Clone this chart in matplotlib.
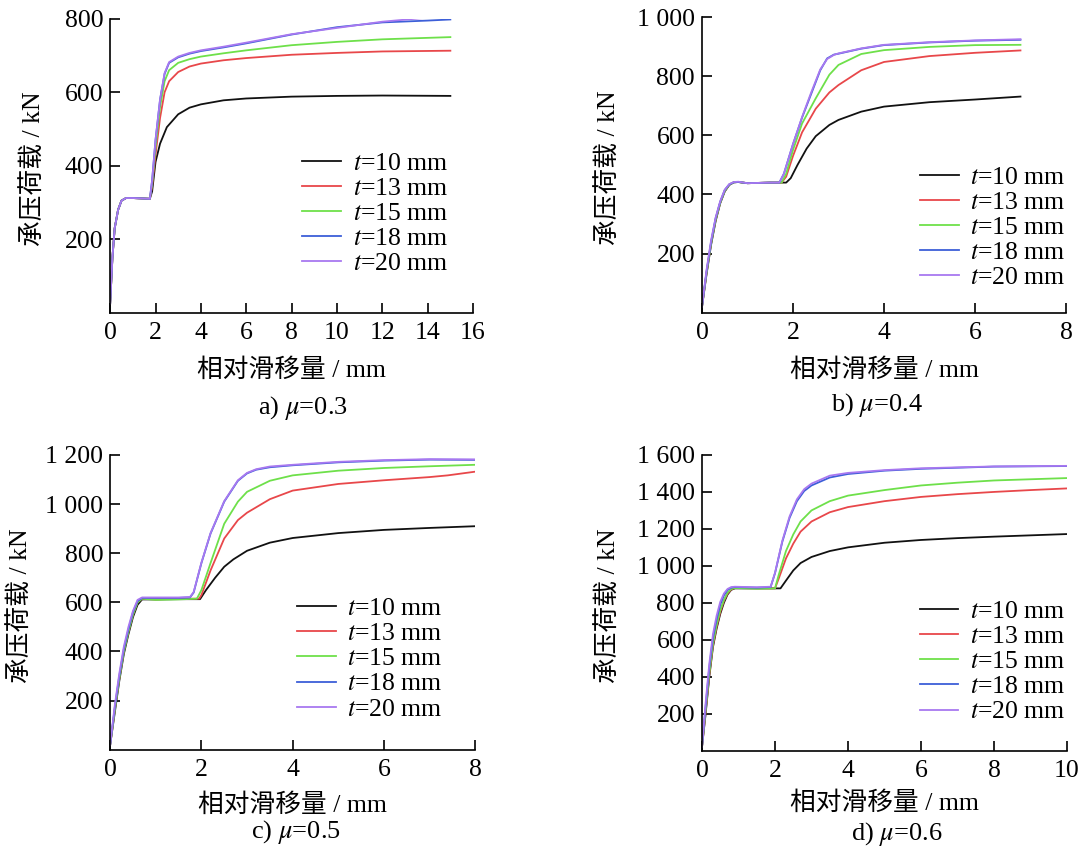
import matplotlib.pyplot as plt
from matplotlib.ticker import FuncFormatter

plt.rcParams['font.family'] = ['Liberation Serif', 'Noto Sans CJK SC']
plt.rcParams['mathtext.fontset'] = 'stix'

labels = ['$t$=10 mm', '$t$=13 mm', '$t$=15 mm', '$t$=18 mm', '$t$=20 mm']
colors = ['#111111', '#e8474a', '#6ee04a', '#3d5fd8', '#a878f0']

# a) mu = 0.3
a_x = [
    [0, 0.1, 0.2, 0.35, 0.5, 0.7, 1.0, 1.75, 1.85, 2.0, 2.2, 2.5, 3.0, 3.5, 4, 5, 6, 8, 10, 12, 15],
    [0, 0.1, 0.2, 0.35, 0.5, 0.7, 1.0, 1.75, 1.85, 2.0, 2.2, 2.4, 2.6, 3.0, 3.5, 4, 5, 6, 8, 10, 12, 15],
    [0, 0.1, 0.2, 0.35, 0.5, 0.7, 1.0, 1.75, 1.85, 2.0, 2.2, 2.4, 2.6, 3.0, 3.5, 4, 5, 6, 8, 10, 12, 15],
    [0, 0.1, 0.2, 0.35, 0.5, 0.7, 1.0, 1.75, 1.85, 2.0, 2.2, 2.4, 2.6, 3.0, 3.5, 4, 5, 6, 8, 10, 12, 14, 15],
    [0, 0.1, 0.2, 0.35, 0.5, 0.7, 1.0, 1.75, 1.85, 2.0, 2.2, 2.4, 2.6, 3.0, 3.5, 4, 5, 6, 8, 10, 12, 14, 15],
]
a_y = [
    [25, 150, 230, 280, 305, 312, 312, 310, 330, 410, 460, 505, 540, 558, 567, 578, 583, 588, 590, 591, 590],
    [25, 150, 230, 280, 305, 312, 312, 310, 345, 430, 530, 600, 630, 655, 670, 678, 687, 693, 702, 707, 711, 713],
    [25, 150, 230, 280, 305, 312, 312, 310, 350, 450, 560, 630, 660, 680, 690, 697, 706, 714, 728, 737, 744, 750],
    [25, 150, 230, 280, 305, 312, 312, 310, 360, 470, 580, 650, 680, 695, 705, 712, 722, 733, 757, 777, 790, 795, 798],
    [25, 150, 230, 280, 305, 312, 312, 310, 360, 470, 580, 652, 682, 697, 707, 714, 724, 735, 758, 775, 792, 803, 808],
]

# b) mu = 0.4
b_x = [
    [0, 0.1, 0.2, 0.3, 0.4, 0.5, 0.6, 0.7, 0.8, 1.0, 1.5, 1.85, 1.95, 2.1, 2.3, 2.5, 2.8, 3.0, 3.5, 4, 5, 6, 7],
    [0, 0.1, 0.2, 0.3, 0.4, 0.5, 0.6, 0.7, 0.8, 1.0, 1.5, 1.75, 1.85, 2.0, 2.2, 2.5, 2.8, 3.0, 3.5, 4, 5, 6, 7],
    [0, 0.1, 0.2, 0.3, 0.4, 0.5, 0.6, 0.7, 0.8, 1.0, 1.5, 1.75, 1.85, 2.0, 2.2, 2.5, 2.8, 3.0, 3.5, 4, 5, 6, 7],
    [0, 0.1, 0.2, 0.3, 0.4, 0.5, 0.6, 0.7, 0.8, 1.0, 1.5, 1.7, 1.8, 2.0, 2.2, 2.4, 2.6, 2.75, 2.9, 3.0, 3.5, 4, 5, 6, 7],
    [0, 0.1, 0.2, 0.3, 0.4, 0.5, 0.6, 0.7, 0.8, 1.0, 1.5, 1.7, 1.8, 2.0, 2.2, 2.4, 2.6, 2.75, 2.9, 3.0, 3.5, 4, 5, 6, 7],
]
b_y = [
    [20, 130, 230, 310, 370, 410, 432, 441, 442, 438, 440, 440, 455, 500, 555, 597, 635, 652, 680, 697, 712, 721, 731],
    [20, 135, 235, 315, 372, 412, 433, 441, 442, 438, 440, 440, 460, 530, 610, 690, 745, 770, 820, 848, 868, 879, 887],
    [20, 135, 235, 315, 372, 412, 433, 441, 442, 438, 440, 440, 470, 550, 640, 725, 805, 838, 875, 888, 899, 905, 906],
    [20, 140, 240, 320, 375, 415, 434, 441, 442, 438, 440, 440, 470, 570, 660, 740, 820, 860, 873, 876, 893, 905, 914, 920, 923],
    [20, 145, 245, 322, 377, 416, 435, 442, 443, 438, 440, 440, 470, 570, 662, 745, 823, 858, 872, 877, 894, 906, 915, 921, 925],
]

# c) mu = 0.5
c_x = [
    [0, 0.1, 0.2, 0.3, 0.4, 0.5, 0.6, 0.7, 1.0, 1.5, 1.97, 2.1, 2.3, 2.5, 2.7, 3.0, 3.5, 4, 5, 6, 7, 8],
    [0, 0.1, 0.2, 0.3, 0.4, 0.5, 0.6, 0.7, 1.0, 1.5, 1.95, 2.0, 2.2, 2.5, 2.8, 3.0, 3.5, 4, 5, 6, 7, 7.4, 8],
    [0, 0.1, 0.2, 0.3, 0.4, 0.5, 0.6, 0.7, 1.0, 1.5, 1.9, 2.0, 2.2, 2.5, 2.8, 3.0, 3.5, 4, 5, 6, 7, 8],
    [0, 0.1, 0.2, 0.3, 0.4, 0.5, 0.6, 0.7, 1.0, 1.5, 1.75, 1.83, 2.0, 2.2, 2.5, 2.8, 3.0, 3.2, 3.5, 4, 5, 6, 7, 8],
    [0, 0.1, 0.2, 0.3, 0.4, 0.5, 0.6, 0.7, 1.0, 1.5, 1.75, 1.83, 2.0, 2.2, 2.5, 2.8, 3.0, 3.2, 3.5, 4, 5, 6, 7, 8],
]
c_y = [
    [20, 150, 280, 390, 470, 540, 590, 612, 612, 613, 613, 650, 700, 745, 775, 810, 843, 862, 882, 895, 903, 910],
    [20, 160, 290, 400, 480, 550, 600, 615, 612, 615, 615, 630, 730, 860, 935, 965, 1020, 1055, 1082, 1097, 1110, 1117, 1132],
    [20, 160, 290, 400, 480, 550, 600, 615, 610, 612, 615, 650, 760, 920, 1010, 1050, 1095, 1117, 1136, 1147, 1154, 1160],
    [20, 170, 300, 410, 490, 560, 605, 618, 618, 618, 620, 640, 760, 880, 1010, 1095, 1125, 1140, 1150, 1158, 1170, 1177, 1181, 1180],
    [20, 180, 310, 420, 500, 565, 610, 620, 620, 620, 622, 642, 762, 882, 1012, 1097, 1127, 1142, 1153, 1160, 1172, 1179, 1183, 1182],
]

# d) mu = 0.6
d_x = [
    [0, 0.1, 0.2, 0.3, 0.4, 0.5, 0.6, 0.7, 0.8, 0.9, 1.5, 2.15, 2.3, 2.5, 2.7, 3.0, 3.5, 4, 5, 6, 7, 8, 10],
    [0, 0.1, 0.2, 0.3, 0.4, 0.5, 0.6, 0.7, 0.8, 0.9, 1.5, 2.0, 2.1, 2.3, 2.5, 2.7, 3.0, 3.5, 4, 5, 6, 7, 8, 9, 10],
    [0, 0.1, 0.2, 0.3, 0.4, 0.5, 0.6, 0.7, 0.8, 0.9, 1.5, 2.0, 2.1, 2.3, 2.5, 2.7, 3.0, 3.5, 4, 5, 6, 7, 8, 10],
    [0, 0.1, 0.2, 0.3, 0.4, 0.5, 0.6, 0.7, 0.8, 0.9, 1.5, 1.88, 2.0, 2.2, 2.4, 2.6, 2.8, 3.0, 3.5, 4, 5, 6, 8, 10],
    [0, 0.1, 0.2, 0.3, 0.4, 0.5, 0.6, 0.7, 0.8, 0.9, 1.5, 1.88, 2.0, 2.2, 2.4, 2.6, 2.8, 3.0, 3.5, 4, 5, 6, 8, 10],
]
d_y = [
    [20, 200, 400, 560, 660, 740, 800, 845, 870, 878, 878, 878, 920, 975, 1015, 1048, 1080, 1100, 1125, 1140, 1150, 1158, 1172],
    [20, 210, 410, 570, 670, 750, 810, 850, 872, 880, 878, 878, 930, 1040, 1120, 1185, 1240, 1290, 1318, 1350, 1373, 1388, 1400, 1410, 1419],
    [20, 220, 420, 580, 680, 760, 815, 855, 875, 880, 876, 878, 950, 1080, 1170, 1240, 1300, 1350, 1380, 1410, 1435, 1450, 1462, 1475],
    [20, 240, 450, 610, 710, 790, 840, 870, 882, 885, 882, 885, 960, 1130, 1260, 1350, 1405, 1435, 1478, 1497, 1515, 1525, 1537, 1540],
    [20, 260, 470, 630, 730, 805, 850, 875, 885, 887, 884, 887, 962, 1135, 1268, 1360, 1415, 1445, 1488, 1503, 1518, 1528, 1538, 1541],
]

panels = [
    # x data, y data, xmax, xstep, ymax, caption
    (a_x, a_y, 16, 2, 800, 'a) $\\mu$=0.3'),
    (b_x, b_y, 8, 2, 1000, 'b) $\\mu$=0.4'),
    (c_x, c_y, 8, 2, 1200, 'c) $\\mu$=0.5'),
    (d_x, d_y, 10, 2, 1600, 'd) $\\mu$=0.6'),
]

rects = [
    [0.102, 0.633, 0.336, 0.345],
    [0.650, 0.633, 0.337, 0.347],
    [0.102, 0.120, 0.338, 0.346],
    [0.650, 0.119, 0.338, 0.347],
]
legend_pos = [(0.53, 0.337), (0.60, 0.287), (0.512, 0.308), (0.597, 0.30)]
xlabel_y = [-0.194, -0.194, -0.186, -0.176]
ylabel_x = [-0.21, -0.255, -0.245, -0.255]
caption_pos = [(0.280, 0.521), (0.812, 0.525), (0.274, 0.024), (0.830, 0.021)]

FS = 18.5


def thousands(v, pos):
    v = int(round(v))
    if v >= 1000:
        return '%d %03d' % (v // 1000, v % 1000)
    return str(v)


fig = plt.figure(figsize=(10.8, 8.52), dpi=100)

for i, (xs, ys, xmax, xstep, ymax, cap) in enumerate(panels):
    ax = fig.add_axes(rects[i])
    for x, y, c, lab in zip(xs, ys, colors, labels):
        ax.plot(x, y, color=c, lw=1.3, label=lab)

    ax.set_xlim(0, xmax)
    ax.set_ylim(0, ymax)
    ax.set_xticks(range(0, xmax + 1, xstep))
    ax.set_yticks(range(200, ymax + 1, 200))
    ax.yaxis.set_major_formatter(FuncFormatter(thousands))

    for s in ['top', 'right']:
        ax.spines[s].set_visible(False)
    for s in ['left', 'bottom']:
        ax.spines[s].set_linewidth(1.2)
    ax.tick_params(direction='in', length=7, width=1.2, labelsize=FS)
    ax.tick_params(axis='x', pad=7)
    ax.tick_params(axis='y', pad=5)

    ax.set_xlabel('相对滑移量 / mm', fontsize=FS)
    ax.set_ylabel('承压荷载 / kN', fontsize=FS)
    ax.xaxis.set_label_coords(0.5, xlabel_y[i])
    ax.xaxis.label.set_va('center')
    ax.yaxis.set_label_coords(ylabel_x[i], 0.49)
    ax.yaxis.label.set_va('center')

    ax.legend(loc='center left', bbox_to_anchor=legend_pos[i], frameon=False,
              fontsize=FS, handlelength=1.5, handletextpad=0.45,
              labelspacing=0.08, borderpad=0, borderaxespad=0)

    fig.text(caption_pos[i][0], caption_pos[i][1], cap, fontsize=19,
             ha='center', va='center')

fig.savefig('out.png', dpi=100)
